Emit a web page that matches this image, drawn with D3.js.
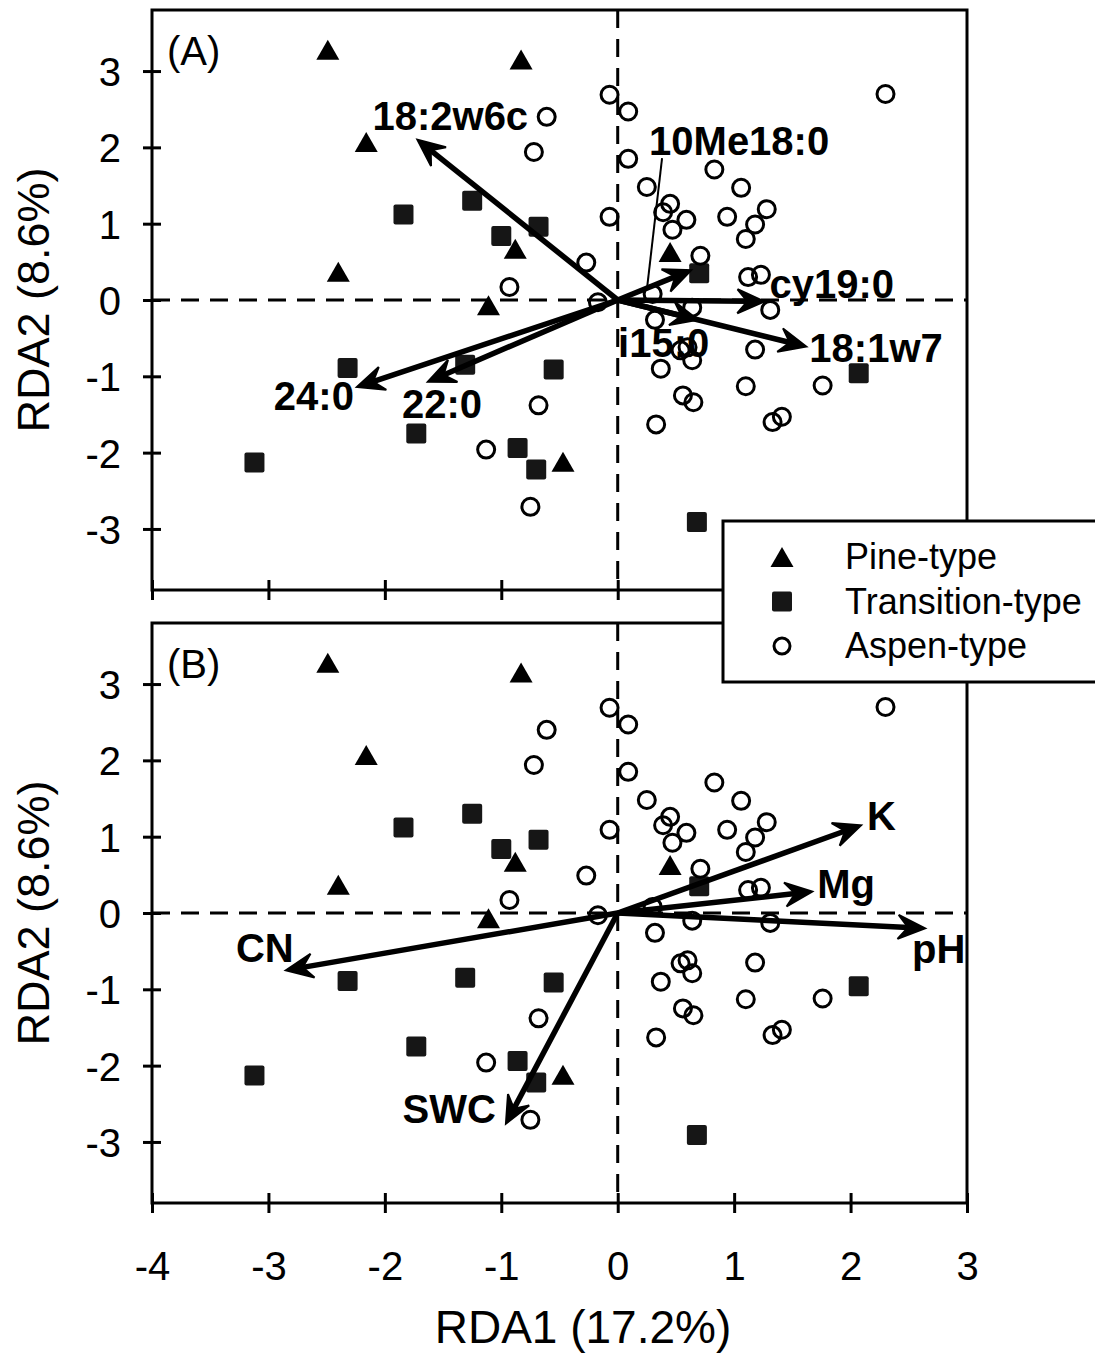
<!DOCTYPE html>
<html>
<head>
<meta charset="utf-8">
<script src="https://cdn.jsdelivr.net/npm/d3@7"></script>
<style>
  body { margin: 0; background: #fff; }
  svg { display: block; font-family: "Liberation Sans", Arial, sans-serif; }
</style>
</head>
<body>
<svg id="chart" width="1095" height="1357"></svg>
<script>
// sample scores (same in both panels)
const pineX = [-2.49, -0.83, -2.16, -2.40, -0.88, -1.11, 0.45, -0.47];
const pineY = [3.28, 3.15, 2.07, 0.37, 0.67, -0.07, 0.63, -2.12];

const transX = [-1.84, -1.25, -0.68, -1.00, 0.70, -2.32, -1.31, -0.55, -1.73, -0.86, -0.70, -3.12, 2.07, 0.68];
const transY = [1.12, 1.30, 0.96, 0.84, 0.35, -0.89, -0.85, -0.91, -1.75, -1.94, -2.22, -2.13, -0.96, -2.91];

const aspenX = [-0.61, -0.72, -0.07, 0.09, 0.09, 0.25, -0.07, -0.27, -0.93, -0.17, -0.68, -1.13, -0.75,
                0.83, 1.06, 0.45, 0.39, 0.59, 0.47, 0.94, 1.28, 1.18, 1.10, 0.71, 1.12, 1.23, 2.30, 0.30,
                0.32, 0.64, 1.31, 0.37, 0.54, 0.60, 0.64, 0.56, 0.65, 0.33, 1.18, 1.10, 1.76, 1.33, 1.41];
const aspenY = [2.40, 1.94, 2.69, 2.47, 1.85, 1.48, 1.09, 0.49, 0.17, -0.03, -1.38, -1.96, -2.71,
                1.71, 1.47, 1.26, 1.15, 1.05, 0.92, 1.09, 1.19, 0.99, 0.80, 0.58, 0.30, 0.33, 2.70, 0.08,
                -0.26, -0.10, -0.13, -0.90, -0.66, -0.62, -0.79, -1.25, -1.34, -1.63, -0.65, -1.13, -1.12, -1.60, -1.53];

// (A) PLFA vectors
const plfaNames = ["18:2w6c", "24:0", "22:0", "cy19:0", "18:1w7", "i15:0", "10Me18:0"];
const plfaX = [-1.72, -2.24, -1.63, 1.26, 1.62, 0.69, 0.63];
const plfaY = [2.10, -1.14, -1.07, -0.02, -0.61, -0.26, 0.39];

// (B) soil vectors
const envNames = ["K", "Mg", "pH", "CN", "SWC"];
const envX = [2.09, 1.67, 2.64, -2.85, -0.96];
const envY = [1.15, 0.28, -0.20, -0.75, -2.76];

const xTicks = [-4, -3, -2, -1, 0, 1, 2, 3];
const yTicks = [-3, -2, -1, 0, 1, 2, 3];
const groups = ["Pine-type", "Transition-type", "Aspen-type"];

// label placement, pixels from arrow tip
const labelPos = {
  "18:2w6c": [-45, -10, "start"],
  "24:0": [-3, 23, "end"],
  "22:0": [-26, 36, "start"],
  "cy19:0": [5, -4, "start"],
  "18:1w7": [3, 15, "start"],
  "i15:0": [-80, 37, "start"],
  "10Me18:0": [-42, -115, "start"],
  "K": [6, 5, "start"],
  "Mg": [5, 6, "start"],
  "pH": [-13, 35, "start"],
  "CN": [-50, -8, "start"],
  "SWC": [-10, -1, "end"]
};

const svg = d3.select("#chart");
const left = 152, right = 967;
const x = d3.scaleLinear().domain([-4, 3]).range([left, right]);

const panels = [
  {tag: "(A)", top: 10, bottom: 590, names: plfaNames, vx: plfaX, vy: plfaY, labels: false},
  {tag: "(B)", top: 623, bottom: 1203, names: envNames, vx: envX, vy: envY, labels: true}
];

const triPath = "M0,-10L11.5,10L-11.5,10Z";

function arrow(g, x0, y0, x1, y1, w) {
  const dx = x1 - x0, dy = y1 - y0;
  const len = Math.sqrt(dx * dx + dy * dy);
  const ux = dx / len, uy = dy / len, vx = -uy, vy = ux;
  const L = 27, W = 12, n = 10;
  const nx = x1 - (L - n) * ux, ny = y1 - (L - n) * uy;
  g.append("line").attr("x1", x0).attr("y1", y0).attr("x2", nx).attr("y2", ny)
    .attr("stroke", "#000").attr("stroke-width", w);
  g.append("path")
    .attr("d", `M${x1},${y1}L${x1 - L * ux + W * vx},${y1 - L * uy + W * vy}L${nx},${ny}L${x1 - L * ux - W * vx},${y1 - L * uy - W * vy}Z`)
    .attr("fill", "#000").attr("stroke", "#000").attr("stroke-width", 2).attr("stroke-linejoin", "miter");
}

panels.forEach(p => {
  const y = d3.scaleLinear().domain([-3.8, 3.8]).range([p.bottom, p.top]);
  const g = svg.append("g");

  // zero lines
  g.append("line").attr("x1", left).attr("x2", right).attr("y1", y(0)).attr("y2", y(0))
    .attr("stroke", "#000").attr("stroke-width", 3).attr("stroke-dasharray", "18,11");
  g.append("line").attr("x1", x(0)).attr("x2", x(0)).attr("y1", p.top).attr("y2", p.bottom)
    .attr("stroke", "#000").attr("stroke-width", 3).attr("stroke-dasharray", "18,11");

  // axes
  const ya = g.append("g").attr("transform", `translate(${left},0)`)
    .call(d3.axisLeft(y).tickValues(yTicks).tickSize(9).tickFormat(d => String(d)));
  ya.select(".domain").remove();
  ya.selectAll(".tick line").attr("x1", 9).attr("x2", -9).attr("stroke-width", 3);
  ya.selectAll(".tick text").attr("x", -31).attr("dy", "0.36em")
    .style("font-size", "40px").style("font-family", "Liberation Sans, Arial, sans-serif");

  const xa = g.append("g").attr("transform", `translate(0,${p.bottom})`)
    .call(d3.axisBottom(x).tickValues(xTicks).tickSize(10).tickFormat(d => String(d)));
  xa.select(".domain").remove();
  xa.selectAll(".tick line").attr("y1", -10).attr("y2", 10).attr("stroke-width", 3);
  if (p.labels) {
    xa.selectAll(".tick text").attr("y", 77).attr("dy", 0)
      .style("font-size", "40px").style("font-family", "Liberation Sans, Arial, sans-serif");
  } else {
    xa.selectAll(".tick text").remove();
  }

  g.append("rect").attr("x", left).attr("y", p.top).attr("width", right - left).attr("height", p.bottom - p.top)
    .attr("fill", "none").attr("stroke", "#000").attr("stroke-width", 3);

  // y title
  g.append("text").attr("transform", `translate(49,${(p.top + p.bottom) / 2}) rotate(-90)`)
    .attr("text-anchor", "middle").style("font-size", "45px").text("RDA2 (8.6%)");

  g.append("text").attr("x", left + 15).attr("y", p.top + 55).style("font-size", "40px").text(p.tag);

  // points
  g.selectAll(".tri").data(pineX).enter().append("path")
    .attr("d", triPath).attr("transform", (d, i) => `translate(${x(d)},${y(pineY[i])})`).attr("fill", "#000");
  g.selectAll(".sq").data(transX).enter().append("rect")
    .attr("x", d => x(d) - 10).attr("y", (d, i) => y(transY[i]) - 10)
    .attr("width", 20).attr("height", 20).attr("rx", 2).attr("fill", "#161616");
  g.selectAll(".circ").data(aspenX).enter().append("circle")
    .attr("cx", d => x(d)).attr("cy", (d, i) => y(aspenY[i])).attr("r", 8.5)
    .attr("fill", "none").attr("stroke", "#000").attr("stroke-width", 3);

  // vectors
  p.names.forEach((name, i) => {
    const tx = x(p.vx[i]), ty = y(p.vy[i]);
    arrow(g, x(0), y(0), tx, ty, 5.5);
    const lp = labelPos[name];
    g.append("text").attr("x", tx + lp[0]).attr("y", ty + lp[1]).attr("text-anchor", lp[2])
      .style("font-size", "40px").style("font-weight", "bold").text(name);
    if (name === "10Me18:0") {
      const sx = x(0) + 0.4 * (tx - x(0)), sy = y(0) + 0.4 * (ty - y(0));
      g.append("line").attr("x1", sx).attr("y1", sy).attr("x2", tx - 29).attr("y2", ty - 112)
        .attr("stroke", "#000").attr("stroke-width", 2);
    }
  });
});

svg.append("text").attr("x", 583).attr("y", 1343).attr("text-anchor", "middle")
  .style("font-size", "46px").text("RDA1 (17.2%)");

// legend
const leg = svg.append("g");
leg.append("rect").attr("x", 723).attr("y", 521).attr("width", 400).attr("height", 161)
  .attr("fill", "#fff").attr("stroke", "#000").attr("stroke-width", 3);
groups.forEach((name, i) => {
  const cy = 557 + i * 44.5;
  if (i === 0) leg.append("path").attr("d", triPath).attr("transform", `translate(782,${cy})`).attr("fill", "#000");
  if (i === 1) leg.append("rect").attr("x", 772).attr("y", cy - 10).attr("width", 20).attr("height", 20).attr("rx", 2).attr("fill", "#161616");
  if (i === 2) leg.append("circle").attr("cx", 782).attr("cy", cy).attr("r", 8).attr("fill", "none").attr("stroke", "#000").attr("stroke-width", 3);
  leg.append("text").attr("x", 845).attr("y", cy + 12).style("font-size", "36px").text(name);
});
</script>
</body>
</html>
